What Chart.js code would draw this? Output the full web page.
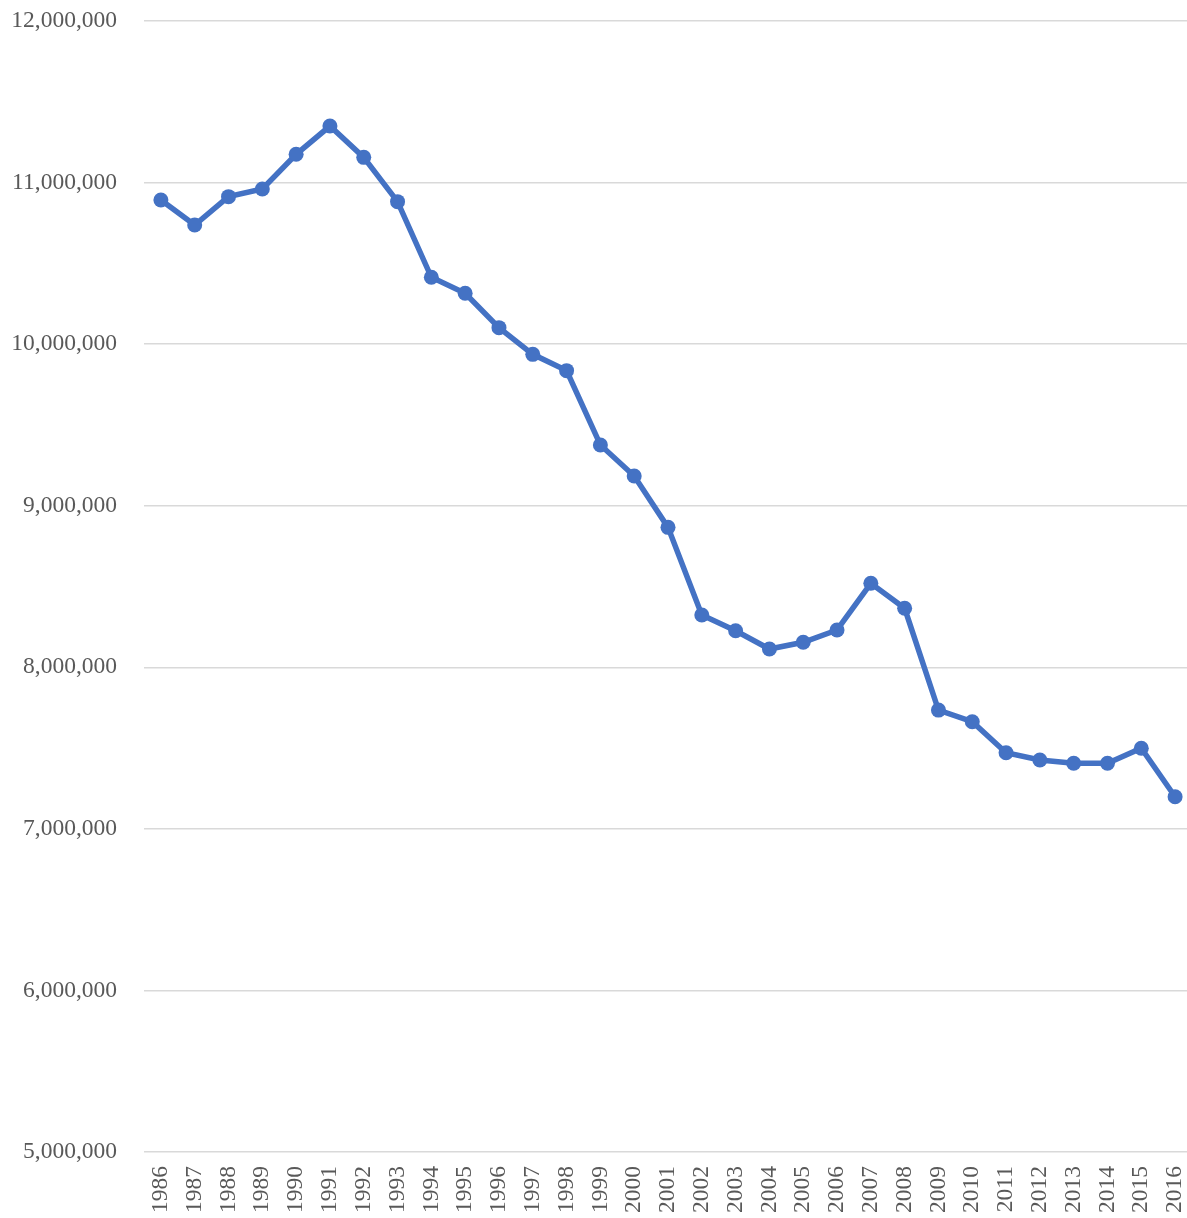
<!DOCTYPE html>
<html>
<head>
<meta charset="utf-8">
<script src="https://cdn.jsdelivr.net/npm/chart.js@4/dist/chart.umd.min.js"></script>
<style>
  html, body { margin: 0; padding: 0; background: #fff; overflow: hidden; }
</style>
</head>
<body>
<canvas id="lijn" width="1192" height="1218"></canvas>
<script>
const jaren = ["1986", "1987", "1988", "1989", "1990", "1991", "1992", "1993", "1994", "1995",
  "1996", "1997", "1998", "1999", "2000", "2001", "2002", "2003", "2004", "2005",
  "2006", "2007", "2008", "2009", "2010", "2011", "2012", "2013", "2014", "2015", "2016"];
const aantallen = [10892000, 10737000, 10913000, 10960000, 11175000, 11350000, 11156000, 10882000, 10414000, 10315000,
  10102000, 9937000, 9836000, 9376000, 9184000, 8866000, 8324000, 8226000, 8113000, 8155000,
  8231000, 8520000, 8365000, 7735000, 7663000, 7471000, 7426000, 7406000, 7406000, 7499000, 7199000];
const yMin = 5000000;
const yMax = 12000000;
const yStap = 1000000;

const tekstKleur = "#595959";
const lettertype = "'Liberation Serif', 'Times New Roman', serif";

const ctx = document.getElementById("lijn").getContext("2d");
new Chart(ctx, {
  type: "line",
  data: {
    labels: jaren,
    datasets: [{
      data: aantallen,
      borderColor: "#4472C4",
      backgroundColor: "#4472C4",
      borderWidth: 5.5,
      pointRadius: 7.5,
      pointHoverRadius: 7.5,
      pointBorderWidth: 0,
      tension: 0
    }]
  },
  options: {
    responsive: false,
    animation: false,
    layout: { autoPadding: false, padding: { top: 21, right: 0, left: 0, bottom: 0 } },
    plugins: {
      legend: { display: false },
      tooltip: { enabled: false }
    },
    scales: {
      x: {
        offset: true,
        grid: { display: false, drawTicks: false },
        border: { display: false },
        afterFit: scale => {
          scale.height = 66;
          scale.paddingLeft = 0;
          scale.paddingRight = 0;
        },
        ticks: {
          autoSkip: false,
          minRotation: 90,
          maxRotation: 90,
          padding: 14,
          color: tekstKleur,
          font: { family: lettertype, size: 23.5 }
        }
      },
      y: {
        min: yMin,
        max: yMax,
        grid: { color: "#d9d9d9", lineWidth: 1.5, drawTicks: false },
        border: { display: false },
        afterFit: scale => {
          scale.width = 144;
          scale.paddingTop = 0;
          scale.paddingBottom = 0;
        },
        ticks: {
          stepSize: yStap,
          padding: 27,
          color: tekstKleur,
          font: { family: lettertype, size: 23.5 },
          callback: value => value.toLocaleString("en-US")
        }
      }
    }
  }
});
</script>
</body>
</html>
